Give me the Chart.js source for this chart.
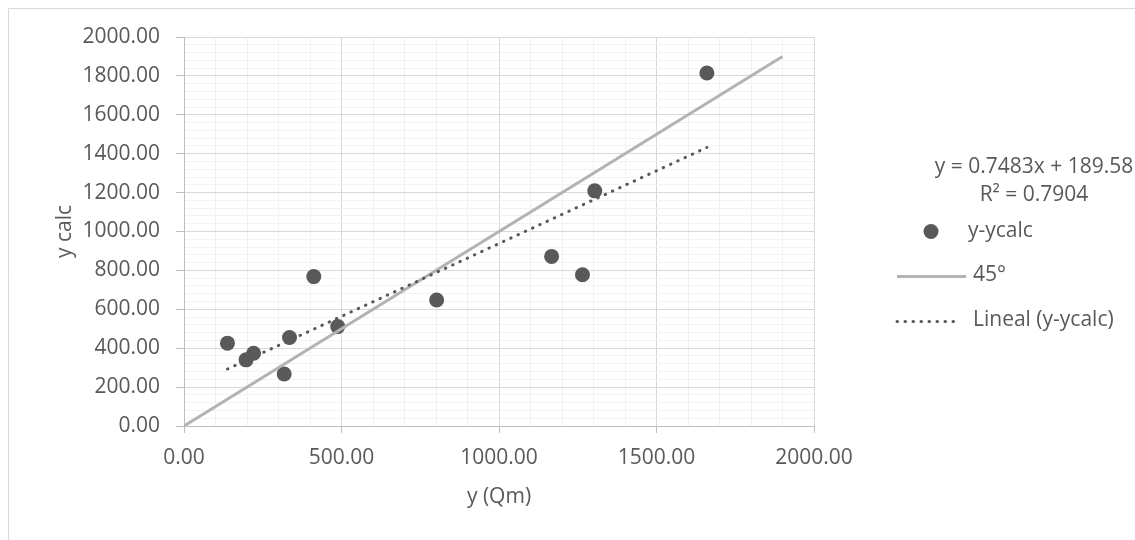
<!DOCTYPE html>
<html>
<head>
<meta charset="utf-8">
<script src="https://cdn.jsdelivr.net/npm/chart.js@4"></script>
<style>
    body { margin: 0; background: #fff; overflow: hidden; }
    #wrap { width: 1135px; height: 540px; position: relative; }
</style>
</head>
<body>
<div id="wrap"><canvas id="yChart"></canvas></div>
<script>
// observed y (Qm) vs calculated y
const yObs  = [138, 197, 221, 318, 335, 412, 488, 802, 1167, 1265, 1304, 1660];
const yCalc = [426, 340, 374, 267, 455, 768, 511, 648, 872, 778, 1209, 1815];

// 45 degree reference line
const refX = [0, 1900];
const refY = [0, 1900];

// linear trendline
const trendX = [138, 1660];
const trendY = [293, 1432];

const eqText = 'y = 0.7483x + 189.58';
const r2Text = 'R² = 0.7904';
const seriesNames = ['y-ycalc', '45°', 'Lineal (y-ycalc)'];

const textColor = '#595959';
const fontFamily = '"Open Sans", "Noto Sans", sans-serif';

document.addEventListener('DOMContentLoaded', function() {
    const ctx = document.getElementById('yChart').getContext('2d');

    Chart.defaults.font.family = fontFamily;
    Chart.defaults.color = textColor;

    function toPoints(xs, ys) {
        return xs.map((x, i) => ({ x: x, y: ys[i] }));
    }

    function isMajor(v, step) {
        return Math.abs(v / step - Math.round(v / step)) < 1e-6;
    }

    // outer frame plus hand drawn legend / equation, like the Excel one
    const extras = {
        id: 'extras',
        afterDraw(chart) {
            const c = chart.ctx;
            c.save();
            c.strokeStyle = '#d9d9d9';
            c.lineWidth = 1;
            c.beginPath();
            c.moveTo(8.5, 540);
            c.lineTo(8.5, 8.5);
            c.lineTo(1135, 8.5);
            c.stroke();

            c.font = '21px ' + fontFamily;
            c.fillStyle = textColor;
            c.textBaseline = 'middle';
            c.textAlign = 'center';
            c.fillText(eqText, 1034, 167);
            c.fillText(r2Text, 1034, 195);

            c.textAlign = 'left';
            // marker
            c.beginPath();
            c.arc(931, 231.5, 7.5, 0, Math.PI * 2);
            c.fill();
            c.fillText(seriesNames[0], 968, 231);

            // 45 line
            c.strokeStyle = '#b3b3b3';
            c.lineWidth = 3;
            c.beginPath();
            c.moveTo(897, 276.5);
            c.lineTo(966, 276.5);
            c.stroke();
            c.fillText(seriesNames[1], 973, 275);

            // dotted trend
            c.strokeStyle = textColor;
            c.lineCap = 'round';
            c.setLineDash([0.5, 7.5]);
            c.beginPath();
            c.moveTo(897, 321.5);
            c.lineTo(958, 321.5);
            c.stroke();
            c.setLineDash([]);
            c.fillText(seriesNames[2], 973, 320);
            c.restore();
        }
    };

    new Chart(ctx, {
        type: 'scatter',
        data: {
            datasets: [
                {
                    label: seriesNames[0],
                    data: toPoints(yObs, yCalc),
                    backgroundColor: textColor,
                    borderColor: textColor,
                    borderWidth: 0,
                    pointRadius: 7.5,
                    order: 3
                },
                {
                    label: seriesNames[1],
                    data: toPoints(refX, refY),
                    showLine: true,
                    borderColor: '#b3b3b3',
                    borderWidth: 3,
                    pointRadius: 0,
                    order: 2
                },
                {
                    label: seriesNames[2],
                    data: toPoints(trendX, trendY),
                    showLine: true,
                    borderColor: textColor,
                    borderWidth: 3,
                    borderDash: [0.5, 7.5],
                    borderCapStyle: 'round',
                    pointRadius: 0,
                    order: 1
                }
            ]
        },
        options: {
            responsive: true,
            maintainAspectRatio: false,
            animation: false,
            events: [],
            layout: { padding: { left: 0, top: 37, right: 321, bottom: 0 } },
            plugins: {
                legend: { display: false },
                tooltip: { enabled: false }
            },
            scales: {
                x: {
                    type: 'linear',
                    min: 0,
                    max: 2000,
                    afterFit: s => { s.height = 114; },
                    border: { color: '#bfbfbf', width: 1 },
                    grid: {
                        color: c => isMajor(c.tick.value, 500) ? '#d9d9d9' : '#f2f2f2',
                        tickColor: c => isMajor(c.tick.value, 500) ? '#bfbfbf' : 'rgba(0,0,0,0)',
                        tickLength: 7
                    },
                    ticks: {
                        stepSize: 100,
                        autoSkip: false,
                        maxRotation: 0,
                        padding: 12,
                        font: { size: 21 },
                        callback: v => isMajor(v, 500) ? v.toFixed(2) : ''
                    },
                    title: {
                        display: true,
                        text: 'y (Qm)',
                        font: { size: 21 },
                        padding: { top: 0, bottom: 30 }
                    }
                },
                y: {
                    type: 'linear',
                    min: 0,
                    max: 2000,
                    afterFit: s => { s.width = 184; },
                    border: { color: '#bfbfbf', width: 1 },
                    grid: {
                        color: c => isMajor(c.tick.value, 200) ? '#d9d9d9' : '#f2f2f2',
                        tickColor: c => isMajor(c.tick.value, 200) ? '#bfbfbf' : 'rgba(0,0,0,0)',
                        tickLength: 8
                    },
                    ticks: {
                        stepSize: 40,
                        autoSkip: false,
                        padding: 16,
                        font: { size: 21 },
                        callback: v => isMajor(v, 200) ? v.toFixed(2) : ''
                    },
                    title: {
                        display: true,
                        text: 'y calc',
                        font: { size: 21 },
                        padding: { top: 52, bottom: 0 }
                    }
                }
            }
        },
        plugins: [extras]
    });
});
</script>
</body>
</html>
